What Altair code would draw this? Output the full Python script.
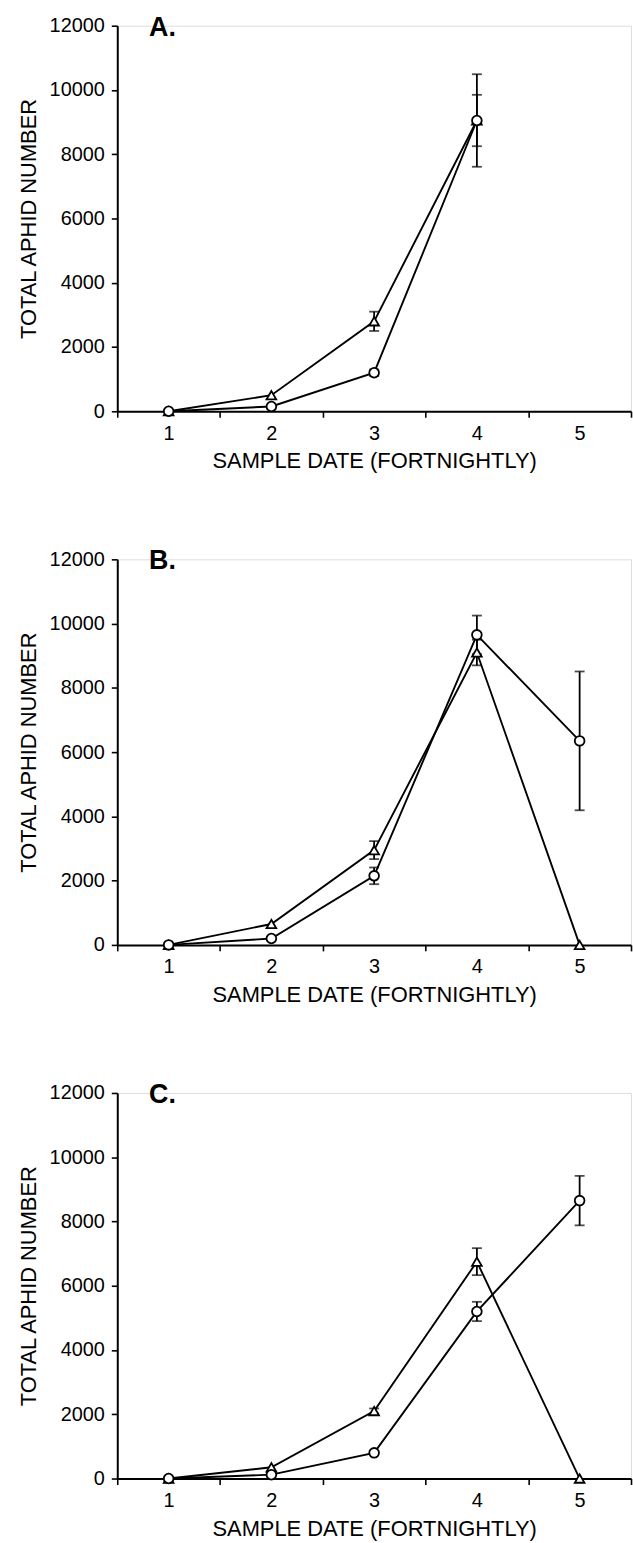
import altair as alt
import pandas as pd

# Sampling dates (fortnightly) shared by every panel
dates = [1, 2, 3, 4, 5]

# Panel A: mean totals and standard errors per sample date
a_tri = [0, 500, 2800, 9050]
a_tri_se = [0, 0, 300, 800]
a_circ = [0, 150, 1200, 9050]
a_circ_se = [0, 0, 100, 1440]

# Panel B
b_tri = [0, 650, 2950, 9100, 0]
b_tri_se = [0, 0, 280, 400, 0]
b_circ = [0, 200, 2150, 9650, 6350]
b_circ_se = [0, 0, 260, 600, 2160]

# Panel C
c_tri = [0, 350, 2100, 6750, 0]
c_tri_se = [0, 0, 80, 420, 0]
c_circ = [0, 120, 800, 5200, 8650]
c_circ_se = [0, 0, 0, 300, 770]

panel_letters = ["A.", "B.", "C."]

y_ticks = [0, 2000, 4000, 6000, 8000, 10000, 12000]
x_ticks = [0.5, 1, 1.5, 2, 2.5, 3, 3.5, 4, 4.5, 5, 5.5]

FONT = "Liberation Sans"


def make_frame(tri, tri_se, circ, circ_se):
    rows = []
    for name, vals, ses in (("triangle", tri, tri_se), ("circle", circ, circ_se)):
        for d, v, s in zip(dates, vals, ses):
            rows.append({"date": d, "value": v, "se": s, "series": name,
                         "lo": v - s, "hi": v + s})
    return pd.DataFrame(rows)


x_axis = alt.Axis(
    values=x_ticks,
    labelExpr="datum.value % 1 === 0 ? format(datum.value, 'd') : ''",
    tickOpacity={"condition": {"test": "datum.value % 1 === 0", "value": 0}, "value": 1},
    title="SAMPLE DATE (FORTNIGHTLY)",
    grid=False,
    domainColor="black", domainWidth=2,
    tickColor="black", tickWidth=1.6, tickSize=6,
    labelFont=FONT, labelFontSize=20, labelColor="black", labelPadding=6,
    labelFlush=False, labelOverlap=False,
    titleFont=FONT, titleFontSize=22, titleFontWeight="normal", titleColor="black",
    titlePadding=8,
)

y_axis = alt.Axis(
    values=y_ticks,
    format="d",
    title="TOTAL APHID NUMBER",
    grid=False,
    domainColor="black", domainWidth=2,
    tickColor="black", tickWidth=1.6, tickSize=6,
    labelFont=FONT, labelFontSize=20, labelColor="black", labelPadding=7,
    titleFont=FONT, titleFontSize=22, titleFontWeight="normal", titleColor="black",
    titlePadding=9,
)

x_scale = alt.Scale(domain=[0.5, 5.5], nice=False, zero=False)
y_scale = alt.Scale(domain=[0, 12000], nice=False)


def panel(letter, df):
    base = alt.Chart(df)
    x = alt.X("date:Q", scale=x_scale, axis=x_axis)
    y = alt.Y("value:Q", scale=y_scale, axis=y_axis)

    lines = base.mark_line(color="black", strokeWidth=1.9).encode(
        x=x, y=y, detail="series:N", order="date:Q"
    )

    err = base.transform_filter("datum.se > 0")
    stems = err.mark_rule(color="black", strokeWidth=1.8).encode(
        x=alt.X("date:Q", scale=x_scale),
        y=alt.Y("lo:Q", scale=y_scale),
        y2="hi:Q",
    )
    caps_lo = err.mark_tick(color="black", orient="horizontal", size=10, thickness=1.8).encode(
        x=alt.X("date:Q", scale=x_scale), y=alt.Y("lo:Q", scale=y_scale)
    )
    caps_hi = err.mark_tick(color="black", orient="horizontal", size=10, thickness=1.8).encode(
        x=alt.X("date:Q", scale=x_scale), y=alt.Y("hi:Q", scale=y_scale)
    )

    points = base.mark_point(filled=True, fill="white", stroke="black",
                             strokeWidth=1.8, size=95, opacity=1).encode(
        x=x, y=y,
        shape=alt.Shape("series:N",
                        scale=alt.Scale(domain=["circle", "triangle"],
                                        range=["circle", "triangle-up"]),
                        legend=None),
    )

    # Panel letter in the upper-left corner of the plot area
    label = alt.Chart(pd.DataFrame({"letter": [letter]})).mark_text(
        font=FONT, fontSize=27, fontWeight="bold", color="black",
        align="left", baseline="alphabetic",
    ).encode(x=alt.value(32), y=alt.value(10), text="letter:N")

    return alt.layer(lines, stems, caps_lo, caps_hi, points, label).properties(
        width=517, height=388,
    )


chart = alt.vconcat(
    panel(panel_letters[0], make_frame(a_tri, a_tri_se, a_circ, a_circ_se)),
    panel(panel_letters[1], make_frame(b_tri, b_tri_se, b_circ, b_circ_se)),
    panel(panel_letters[2], make_frame(c_tri, c_tri_se, c_circ, c_circ_se)),
    spacing=74,
).configure_view(stroke=None).configure(
    background="white",
    padding={"left": 16, "top": 8, "right": 0, "bottom": 0},
)

chart.save("out.html", embed_options={"renderer": "svg", "actions": False})
